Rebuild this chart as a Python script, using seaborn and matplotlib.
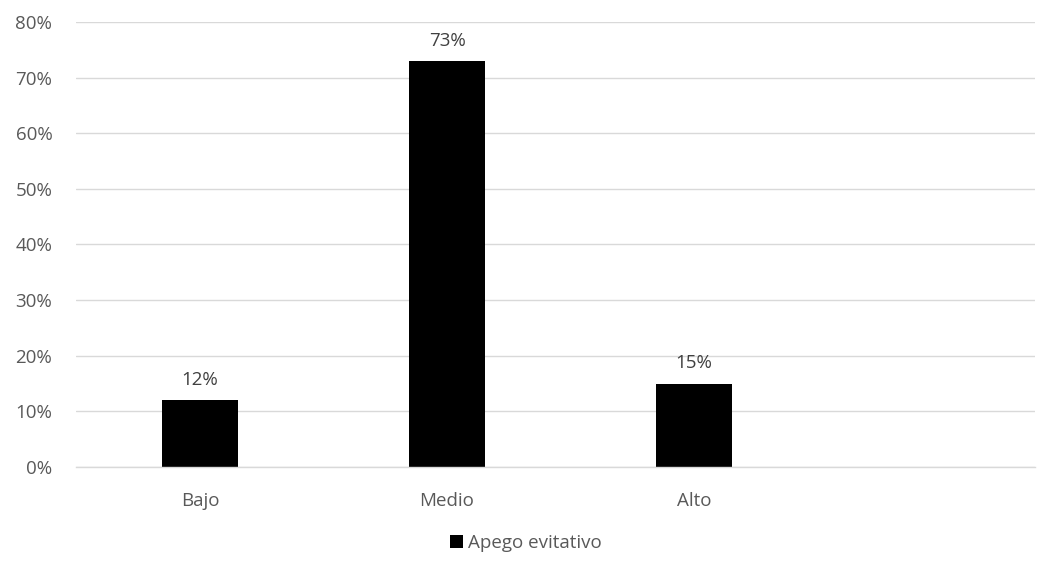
import matplotlib
matplotlib.use("Agg")
import matplotlib.pyplot as plt
import seaborn as sns
import pandas as pd
from matplotlib.patches import Patch

categories = ["Bajo", "Medio", "Alto"]
values = [12, 73, 15]
series_name = "Apego evitativo"
yticks = [0, 10, 20, 30, 40, 50, 60, 70, 80]

sns.set_theme(style="white")
plt.rcParams['font.family'] = ['Open Sans', 'DejaVu Sans']

df = pd.DataFrame({"cat": categories, "val": values})

fig = plt.figure(figsize=(10.52, 5.63), dpi=100)
ax = fig.add_axes([0.0722, 0.1705, 0.9116, 0.7905])
sns.barplot(data=df, x="cat", y="val", color="black", width=0.31, ax=ax, saturation=1)
for p in ax.patches:
    p.set_edgecolor("none")

ax.set_xlim(-0.502, 3.38)
ax.set_ylim(0, 80)
ax.set_yticks(yticks)
ax.set_yticklabels([f"{t}%" for t in yticks])
ax.yaxis.grid(True, color="#d9d9d9", linewidth=1)
ax.set_axisbelow(True)
for s in ["top", "right", "left"]:
    ax.spines[s].set_visible(False)
ax.spines["bottom"].set_color("#d9d9d9")
ax.spines["bottom"].set_linewidth(1)
ax.set_xlabel("")
ax.set_ylabel("")
ax.tick_params(axis="both", length=0, labelsize=13.5, colors="#595959")
ax.tick_params(axis="x", pad=18)
ax.tick_params(axis="y", pad=17)

for i, v in enumerate(values):
    ax.annotate(f"{v}%", (i, v), xytext=(0, 8), textcoords="offset points",
                ha="center", va="bottom", fontsize=13.5, color="#404040")

handles = [Patch(facecolor="black", edgecolor="none", label=series_name)]
fig.legend(handles=handles, loc="center", bbox_to_anchor=(0.5, 0.036), frameon=False,
           fontsize=13.5, handlelength=0.7, handleheight=0.7, handletextpad=0.3,
           labelcolor="#595959")

fig.savefig("out.png", dpi=100)
